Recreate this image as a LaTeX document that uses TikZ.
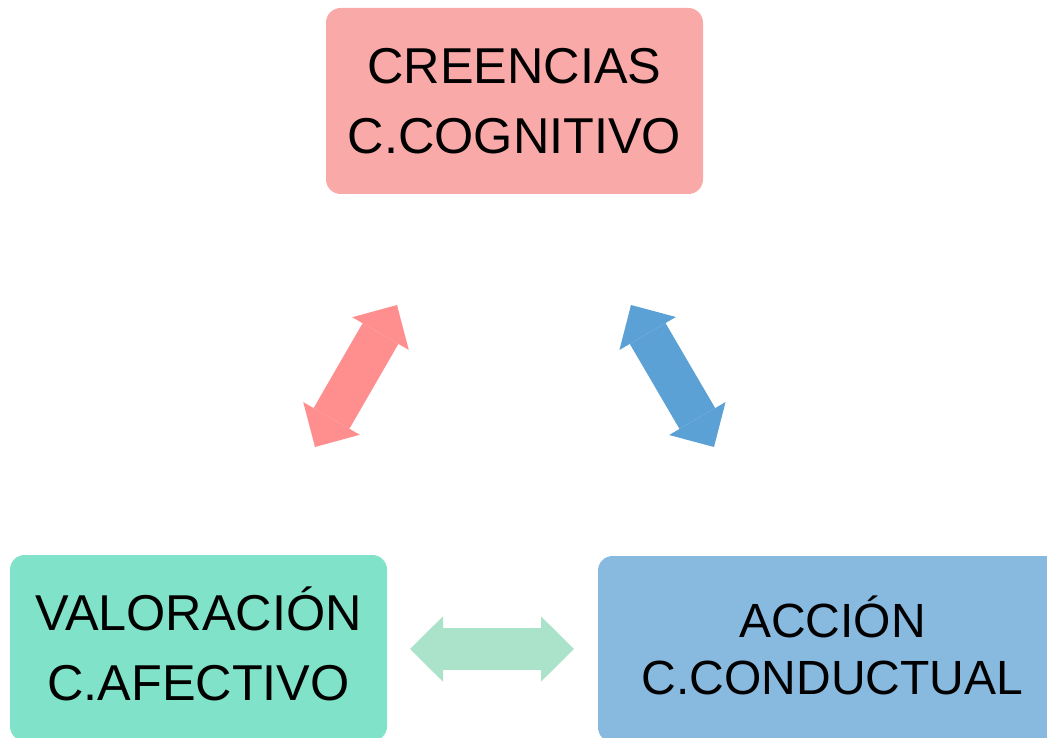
\documentclass[tikz,border=0pt]{standalone}
\usepackage{fontspec}
\setmainfont{Liberation Sans}
\usetikzlibrary{arrows.meta}

\begin{document}
\begin{tikzpicture}[x=0.75pt,y=-0.75pt,
  compbox/.style={rounded corners=11pt,minimum width=282.75pt,minimum height=139.5pt,inner sep=0pt,align=center,font=\fontsize{37.8}{52.5}\selectfont},
  twoway/.style={line width=31pt,{Triangle[length=24.75pt 0 0,width=49pt 0 0,line width=0pt]}-{Triangle[length=24.75pt 0 0,width=49pt 0 0,line width=0pt]}}]
\definecolor{pinkbox}{HTML}{FAA9A9}
\definecolor{greenbox}{HTML}{80E2C8}
\definecolor{bluebox}{HTML}{88B9DF}
\definecolor{pinkarrow}{HTML}{FF8E8E}
\definecolor{bluearrow}{HTML}{5BA1D5}
\definecolor{greenarrow}{HTML}{AAE3CA}
\path [use as bounding box,clip] (0,0) rectangle (1047,738);
% the three components
\node [compbox,fill=pinkbox] (creencias) at (514.5,101) {CREENCIAS\\C.COGNITIVO};
\node [compbox,fill=greenbox] (valoracion) at (198.5,648) {VALORACI\smash{Ó}N\\C.AFECTIVO};
\node [compbox,fill=bluebox,minimum width=351.75pt,font=\fontsize{36}{42.75}\selectfont] (accion) at (832.5,649) {ACCI\smash{Ó}N\\C.CONDUCTUAL};
% double arrows
\coordinate (cv1) at (315,447);
\coordinate (cv2) at (397,305);
\coordinate (ca1) at (631,305);
\coordinate (ca2) at (714,447);
\coordinate (va1) at (410,649);
\coordinate (va2) at (574,649);
  \foreach \crlr/\from/\to in {pinkarrow/cv1/cv2,bluearrow/ca1/ca2,greenarrow/va1/va2}
  {  \draw [twoway,\crlr] (\from) -- (\to);}
\end{tikzpicture}
\end{document}
